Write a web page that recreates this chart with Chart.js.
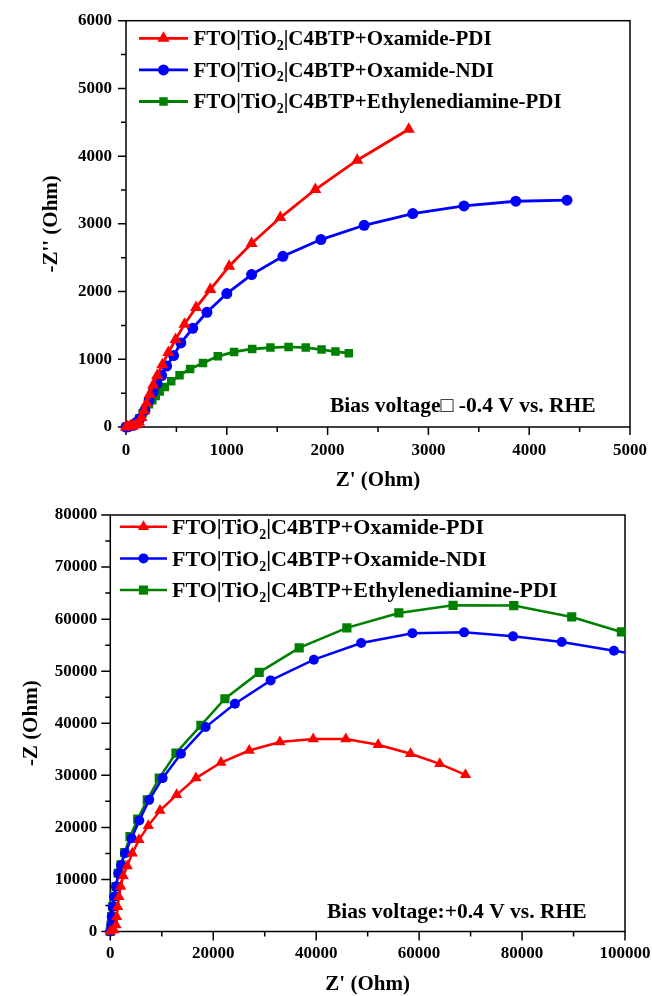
<!DOCTYPE html>
<html>
<head>
<meta charset="utf-8">
<script src="https://cdn.jsdelivr.net/npm/chart.js@4.4.1/dist/chart.umd.min.js"></script>
<style>
  html, body { margin: 0; padding: 0; background: #fff; }
  #wrap { position: relative; width: 652px; height: 996px; }
  #wrap canvas { position: absolute; left: 0; }
  #eisNeg { top: 0; }
  #eisPos { top: 500px; }
</style>
</head>
<body>
<div id="wrap">
  <canvas id="eisNeg" width="652" height="500"></canvas>
  <canvas id="eisPos" width="652" height="496"></canvas>
</div>
<script>
(() => {
  'use strict'

  // Nombres de las muestras
  const seriesLabels = [
    'FTO|TiO2|C4BTP+Oxamide-PDI',
    'FTO|TiO2|C4BTP+Oxamide-NDI',
    'FTO|TiO2|C4BTP+Ethylenediamine-PDI'
  ]
  const seriesColors = ['#ff0000', '#0000ff', '#008000']
  const seriesMarkers = ['triangle', 'circle', 'rect']

  // Nyquist a -0.4 V vs. RHE: Z' y -Z'' en Ohm
  const negOxPdiRe = [0, 15, 40, 70, 100, 130, 155, 180, 205, 235, 270, 310, 360, 420, 492, 580, 695, 836, 1023, 1246, 1531, 1878, 2294, 2805]
  const negOxPdiIm = [0, 5, 10, 20, 35, 70, 140, 240, 350, 480, 620, 760, 920, 1100, 1291, 1517, 1764, 2030, 2374, 2709, 3093, 3507, 3940, 4397]
  const negOxNdiRe = [0, 26, 72, 105, 138, 187, 229, 269, 308, 354, 403, 472, 544, 662, 803, 1000, 1246, 1557, 1934, 2363, 2845, 3353, 3867, 4375]
  const negOxNdiIm = [0, 5, 25, 70, 124, 247, 394, 517, 641, 759, 901, 1055, 1241, 1458, 1694, 1970, 2251, 2521, 2768, 2979, 3152, 3264, 3334, 3349]
  const negEdPdiRe = [0, 39, 88, 131, 164, 197, 229, 262, 295, 334, 386, 449, 531, 636, 764, 911, 1072, 1252, 1433, 1613, 1783, 1940, 2078, 2210]
  const negEdPdiIm = [0, 15, 50, 124, 198, 272, 335, 394, 458, 523, 591, 675, 764, 857, 945, 1044, 1108, 1152, 1173, 1182, 1173, 1143, 1114, 1090]

  // Nyquist a +0.4 V vs. RHE
  const posOxPdiRe = [0, 700, 1110, 1240, 1440, 1690, 2020, 2520, 3300, 4270, 5570, 7380, 9650, 12890, 16640, 21500, 26990, 32950, 39420, 45770, 52040, 58330, 64020, 69010]
  const posOxPdiIm = [0, 300, 1250, 2850, 4770, 6690, 8620, 10670, 12600, 15040, 17600, 20290, 23230, 26250, 29460, 32460, 34770, 36380, 36960, 36960, 35870, 34130, 32210, 30100]
  const posOxNdiRe = [0, 180, 280, 470, 740, 1110, 1550, 2080, 2850, 4150, 5630, 7570, 10170, 13730, 18520, 24210, 31150, 39550, 48740, 58700, 68740, 78250, 87710, 97860, 107000]
  const posOxNdiIm = [0, 1250, 2850, 4770, 6690, 8620, 11190, 12790, 15040, 17920, 21310, 25290, 29460, 34130, 39270, 43750, 48230, 52210, 55420, 57300, 57460, 56690, 55620, 53940, 52500]
  const posEdPdiRe = [0, 140, 270, 470, 720, 1110, 1550, 2080, 2800, 3830, 5320, 7180, 9510, 12760, 17610, 22270, 28930, 36700, 45960, 56060, 66600, 78390, 89650, 99300]
  const posEdPdiIm = [0, 1250, 2850, 4770, 6690, 8620, 11190, 12790, 15150, 18230, 21580, 25290, 29460, 34270, 39580, 44710, 49770, 54460, 58310, 61190, 62650, 62600, 60420, 57540]

  // Marcas con etiqueta
  const negXTicks = [0, 1000, 2000, 3000, 4000, 5000]
  const negYTicks = [0, 1000, 2000, 3000, 4000, 5000, 6000]
  const posXTicks = [0, 20000, 40000, 60000, 80000, 100000]
  const posYTicks = [0, 10000, 20000, 30000, 40000, 50000, 60000, 70000, 80000]

  const SERIF = "'Times New Roman', 'Liberation Serif', serif"
  Chart.defaults.font.family = SERIF
  Chart.defaults.font.weight = 'bold'
  Chart.defaults.color = '#000'

  const toPoints = (xs, ys) => xs.map((x, i) => ({ x, y: ys[i] }))

  // Marco del área y marcas de los ejes (mayores y menores) hacia afuera
  const frameTicks = {
    id: 'frameTicks',
    beforeDatasetsDraw(chart, args, opts) {
      const { ctx, chartArea: a } = chart
      const sx = chart.scales.x
      const sy = chart.scales.y
      ctx.save()
      ctx.strokeStyle = '#000'
      ctx.lineWidth = 1.5
      ctx.strokeRect(a.left, a.top, a.right - a.left, a.bottom - a.top)
      ctx.beginPath()
      sx.ticks.forEach(t => {
        const px = sx.getPixelForValue(t.value)
        const len = opts.xMajor.includes(t.value) ? opts.major : opts.minor
        ctx.moveTo(px, a.bottom)
        ctx.lineTo(px, a.bottom + len)
      })
      sy.ticks.forEach(t => {
        const py = sy.getPixelForValue(t.value)
        const len = opts.yMajor.includes(t.value) ? opts.major : opts.minor
        ctx.moveTo(a.left, py)
        ctx.lineTo(a.left - len, py)
      })
      ctx.stroke()
      ctx.restore()
    }
  }

  // Texto con el 2 de TiO2 como subíndice
  function drawLabel(ctx, text, x, yMid, size) {
    const [head, tail] = text.split('TiO2')
    const base = yMid + size * 0.33
    ctx.textAlign = 'left'
    ctx.textBaseline = 'alphabetic'
    ctx.font = `bold ${size}px ${SERIF}`
    ctx.fillText(head + 'TiO', x, base)
    let cx = x + ctx.measureText(head + 'TiO').width
    ctx.font = `bold ${Math.round(size * 0.65)}px ${SERIF}`
    ctx.fillText('2', cx, base + size * 0.22)
    cx += ctx.measureText('2').width
    ctx.font = `bold ${size}px ${SERIF}`
    ctx.fillText(tail, cx, base)
  }

  // Leyenda propia y nota del potencial
  const legendNote = {
    id: 'legendNote',
    afterDraw(chart, args, opts) {
      const { ctx } = chart
      ctx.save()
      chart.data.datasets.forEach((ds, i) => {
        const y = opts.y + i * opts.gap
        ctx.strokeStyle = ds.borderColor
        ctx.lineWidth = ds.borderWidth
        ctx.beginPath()
        ctx.moveTo(opts.x, y)
        ctx.lineTo(opts.x + opts.len, y)
        ctx.stroke()
        ctx.fillStyle = ds.borderColor
        Chart.helpers.drawPoint(ctx, {
          pointStyle: ds.pointStyle,
          radius: ds.pointRadius,
          rotation: 0,
          borderWidth: 0
        }, opts.x + opts.len / 2, y)
        ctx.fillStyle = '#000'
        drawLabel(ctx, ds.label, opts.x + opts.len + opts.textGap, y, opts.size)
      })
      ctx.fillStyle = '#000'
      ctx.font = `bold ${opts.noteSize}px ${SERIF}`
      ctx.textAlign = 'left'
      ctx.textBaseline = 'middle'
      ctx.fillText(opts.note, opts.noteX, opts.noteY)
      ctx.restore()
    }
  }

  function makeDatasets(series, radii, clipRight, width) {
    return series.map((pts, i) => ({
      label: seriesLabels[i],
      data: pts,
      showLine: true,
      borderColor: seriesColors[i],
      backgroundColor: seriesColors[i],
      borderWidth: width,
      pointStyle: seriesMarkers[i],
      pointRadius: radii[i],
      pointHoverRadius: radii[i],
      pointBorderWidth: 0,
      tension: 0,
      clip: { left: 8, top: 8, right: clipRight[i], bottom: 8 }
    }))
  }

  function axisOptions(o) {
    return {
      type: 'linear',
      min: o.min,
      max: o.max,
      grid: { display: false, drawTicks: false },
      border: { display: false },
      ticks: {
        stepSize: o.step,
        autoSkip: false,
        maxRotation: 0,
        padding: o.pad,
        font: { size: 17, weight: 'bold' },
        callback: v => (o.major.includes(v) ? v : '')
      },
      title: {
        display: true,
        text: o.title,
        font: { size: 21, weight: 'bold', lineHeight: 1 },
        padding: o.titlePad
      },
      // tamaño fijo del eje y sin margen extra por las etiquetas
      afterFit: s => {
        o.fit(s)
        s.paddingLeft = 0
        s.paddingRight = 0
        s.paddingTop = 0
        s.paddingBottom = 0
      }
    }
  }

  // -0.4 V
  new Chart(document.getElementById('eisNeg'), {
    type: 'scatter',
    data: {
      datasets: makeDatasets([
        toPoints(negOxPdiRe, negOxPdiIm),
        toPoints(negOxNdiRe, negOxNdiIm),
        toPoints(negEdPdiRe, negEdPdiIm)
      ], [7, 5.5, 6], [8, 8, 8], 2.8)
    },
    options: {
      responsive: false,
      animation: false,
      layout: { padding: { left: 0, top: 20.7, right: 22, bottom: 0 } },
      scales: {
        x: axisOptions({
          min: 0, max: 5000, step: 500, major: negXTicks, pad: 13,
          title: "Z' (Ohm)", titlePad: { top: 0, bottom: 8.5 },
          fit: s => { s.height = 73 }
        }),
        y: axisOptions({
          min: 0, max: 6000, step: 500, major: negYTicks, pad: 14,
          title: "-Z'' (Ohm)", titlePad: { top: 41, bottom: 0 },
          fit: s => { s.width = 126 }
        })
      },
      plugins: {
        legend: { display: false },
        tooltip: { enabled: false },
        frameTicks: { xMajor: negXTicks, yMajor: negYTicks, major: 8, minor: 5 },
        legendNote: {
          x: 139, y: 38.3, gap: 31.6, len: 49, textGap: 5.5, size: 21,
          note: 'Bias voltage\u25A1 -0.4 V vs. RHE', noteX: 330, noteY: 406, noteSize: 21.5
        }
      }
    },
    plugins: [frameTicks, legendNote]
  })

  // +0.4 V
  new Chart(document.getElementById('eisPos'), {
    type: 'scatter',
    data: {
      datasets: makeDatasets([
        toPoints(posOxPdiRe, posOxPdiIm),
        toPoints(posOxNdiRe, posOxNdiIm),
        toPoints(posEdPdiRe, posEdPdiIm)
      ], [6.5, 5, 6.5], [8, 0, 8], 2.5)
    },
    options: {
      responsive: false,
      animation: false,
      layout: { padding: { left: 0, top: 15, right: 27, bottom: 0 } },
      scales: {
        x: axisOptions({
          min: 0, max: 100000, step: 10000, major: posXTicks, pad: 11.6,
          title: "Z' (Ohm)", titlePad: { top: 0, bottom: 0.5 },
          fit: s => { s.height = 64.5 }
        }),
        y: axisOptions({
          min: 0, max: 80000, step: 5000, major: posYTicks, pad: 13,
          title: '-Z (Ohm)', titlePad: { top: 21, bottom: 0 },
          fit: s => { s.width = 110.3 }
        })
      },
      plugins: {
        legend: { display: false },
        tooltip: { enabled: false },
        frameTicks: { xMajor: posXTicks, yMajor: posYTicks, major: 9, minor: 5 },
        legendNote: {
          x: 120, y: 26.7, gap: 31.7, len: 47, textGap: 5, size: 22,
          note: 'Bias voltage:+0.4 V vs. RHE', noteX: 327, noteY: 412.3, noteSize: 21.5
        }
      }
    },
    plugins: [frameTicks, legendNote]
  })
})()
</script>
</body>
</html>
